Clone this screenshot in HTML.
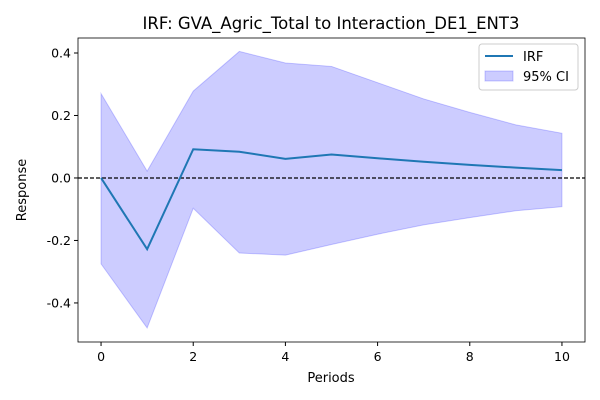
<!DOCTYPE html>
<html><head><meta charset="utf-8"><style>
body{margin:0;background:#fff;}
svg{display:block;font-family:"DejaVu Sans","Liberation Sans",sans-serif;}
</style></head><body>
<svg id="chart" width="600" height="400">
<text x="331" y="29" text-anchor="middle" font-size="16.5" fill="#000">IRF: GVA_Agric_Total to Interaction_DE1_ENT3</text>
<text x="331" y="382" text-anchor="middle" font-size="13">Periods</text>
<text x="0" y="0" transform="translate(26,190) rotate(-90)" text-anchor="middle" font-size="13">Response</text>
<g id="plot"></g>
</svg>
<script>
const periods=[0,1,2,3,4,5,6,7,8,9,10];
const irf=[0,-0.228,0.092,0.084,0.061,0.075,0.063,0.052,0.042,0.033,0.025];
const upper=[0.27,0.022,0.278,0.405,0.368,0.357,0.305,0.253,0.21,0.17,0.143];
const lower=[-0.275,-0.48,-0.097,-0.24,-0.247,-0.213,-0.18,-0.15,-0.127,-0.105,-0.092];
const xTicks=[0,2,4,6,8,10];
const yTicks=[-0.4,-0.2,0.0,0.2,0.4];
const L=78,R=585,T=38,B=342;
const xMin=-0.5,xMax=10.5,yMin=-0.525,yMax=0.448;
const xs=v=>L+(v-xMin)/(xMax-xMin)*(R-L);
const ys=v=>B-(v-yMin)/(yMax-yMin)*(B-T);
const NS='http://www.w3.org/2000/svg';
const g=document.getElementById('plot');
function mk(t,a){const e=document.createElementNS(NS,t);for(const k in a)e.setAttribute(k,a[k]);g.appendChild(e);return e;}
let d='M'+periods.map((p,i)=>xs(p)+','+ys(upper[i])).join('L');
for(let i=periods.length-1;i>=0;i--)d+='L'+xs(periods[i])+','+ys(lower[i]);
const band=mk('path',{d:d+'Z',fill:'rgba(0,0,255,0.2)',stroke:'rgba(0,0,255,0.2)'});


const zl=mk('line',{x1:L,x2:R,y1:ys(0),y2:ys(0),stroke:'#000','stroke-dasharray':'4,2','stroke-width':1.2});


const ln=mk('polyline',{points:periods.map((p,i)=>xs(p)+','+ys(irf[i])).join(' '),fill:'none',stroke:'#1f77b4','stroke-width':2});


const fr=mk('rect',{x:L,y:T,width:R-L,height:B-T,fill:'none',stroke:'#000','stroke-width':0.8});


xTicks.forEach(v=>{const x=xs(v);
 const t=mk('line',{x1:x,x2:x,y1:B,y2:B+4,stroke:'#000'});
 
 
 const l=mk('text',{x:x,y:B+19,'text-anchor':'middle','font-size':12.5});l.textContent=v;
 
 });
yTicks.forEach(v=>{const y=ys(v);
 const t=mk('line',{x1:L-4,x2:L,y1:y,y2:y,stroke:'#000'});
 
 
 const l=mk('text',{x:L-7,y:y+4.5,'text-anchor':'end','font-size':12.5});l.textContent=v.toFixed(1);
 
 });
const lg=mk('rect',{x:479,y:44,width:99,height:46,rx:3,fill:'#fff',stroke:'#ccc'});


const l1=mk('line',{x1:485,x2:513,y1:56,y2:56,stroke:'#1f77b4','stroke-width':2});


const t1=mk('text',{x:523,y:61,'font-size':13});t1.textContent='IRF';


const s2=mk('rect',{x:485,y:71,width:28,height:10,fill:'rgba(0,0,255,0.2)',stroke:'rgba(0,0,255,0.2)'});


const t2=mk('text',{x:523,y:81,'font-size':13});t2.textContent='95% CI';


</script>
</body></html>
